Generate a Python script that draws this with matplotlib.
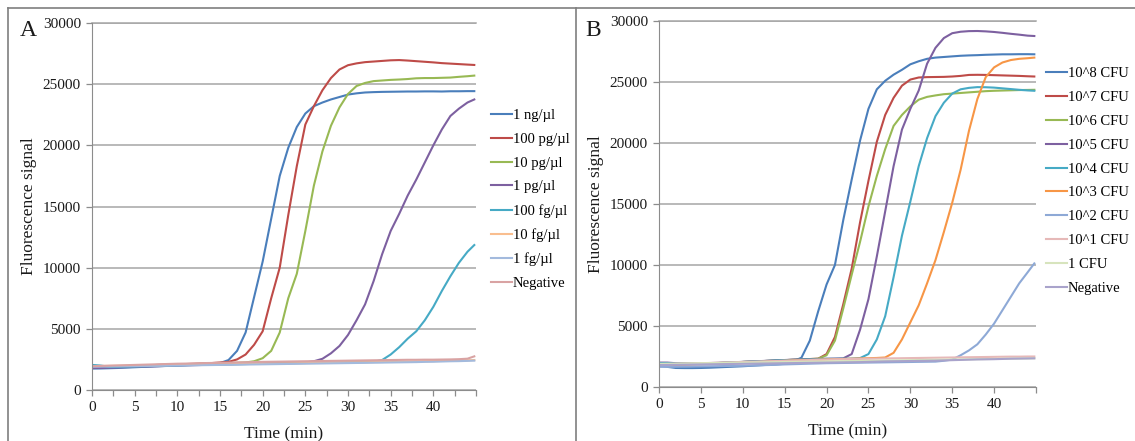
import numpy as np
import matplotlib
matplotlib.use("Agg")
import matplotlib.pyplot as plt
from matplotlib.lines import Line2D

plt.rcParams['font.family'] = ['Liberation Serif', 'DejaVu Serif']

# ---------------- data ----------------
time = list(range(45)) + [44.8]

labels_a = ["1 ng/\u00b5l", "100 pg/\u00b5l", "10 pg/\u00b5l", "1 pg/\u00b5l",
            "100 fg/\u00b5l", "10 fg/\u00b5l", "1 fg/\u00b5l", "Negative"]
colors_a = ["#4A7EBB", "#BE4B48", "#98B954", "#7D60A0",
            "#46AAC5", "#F9BE8F", "#A3BADD", "#D9A3A3"]

a_1ng = [1750, 1760, 1780, 1800, 1830, 1860, 1890, 1920, 1950, 1980,
         2010, 2040, 2070, 2100, 2140, 2200, 2450, 3200, 4700, 7600,
         10500, 14000, 17500, 19800, 21500, 22600, 23200, 23500, 23750, 23950,
         24150, 24250, 24320, 24350, 24370, 24380, 24390, 24400, 24400, 24410,
         24410, 24400, 24420, 24420, 24430, 24430]
a_100pg = [1850, 1870, 1890, 1910, 1940, 1970, 2000, 2030, 2060, 2080,
           2100, 2120, 2140, 2170, 2200, 2250, 2300, 2500, 2900, 3700,
           4800, 7500, 10000, 14300, 18300, 21700, 23200, 24500, 25500, 26200,
           26550, 26700, 26800, 26850, 26900, 26950, 26970, 26930, 26880, 26830,
           26780, 26720, 26680, 26640, 26600, 26570]
a_10pg = [1900, 1910, 1920, 1940, 1960, 1980, 2000, 2020, 2040, 2060,
          2080, 2100, 2120, 2140, 2160, 2180, 2200, 2220, 2250, 2350,
          2600, 3200, 4700, 7500, 9500, 13000, 16700, 19500, 21600, 23100,
          24200, 24850, 25100, 25250, 25300, 25350, 25380, 25420, 25480, 25500,
          25500, 25520, 25540, 25600, 25650, 25700]
a_1pg = [1800, 1810, 1830, 1850, 1870, 1890, 1910, 1930, 1950, 1970,
         1990, 2010, 2030, 2050, 2070, 2090, 2100, 2120, 2130, 2150,
         2160, 2180, 2190, 2210, 2230, 2250, 2350, 2550, 3000, 3600,
         4500, 5700, 7000, 8900, 11100, 13000, 14400, 15900, 17200, 18600,
         20000, 21300, 22400, 23000, 23500, 23750]
a_100fg = [2050, 2000, 1900, 1900, 1910, 1920, 1940, 1960, 1980, 2000,
           2010, 2030, 2050, 2060, 2080, 2090, 2100, 2110, 2120, 2140,
           2150, 2160, 2170, 2180, 2200, 2210, 2220, 2230, 2240, 2250,
           2260, 2270, 2280, 2300, 2450, 2900, 3500, 4200, 4800, 5700,
           6800, 8100, 9300, 10400, 11300, 11850]
a_10fg = [1950, 1960, 1970, 1980, 1990, 2000, 2010, 2020, 2030, 2040,
          2050, 2060, 2070, 2080, 2090, 2100, 2110, 2120, 2130, 2140,
          2150, 2160, 2170, 2180, 2190, 2200, 2210, 2220, 2230, 2240,
          2250, 2260, 2270, 2280, 2290, 2300, 2310, 2320, 2330, 2350,
          2360, 2380, 2400, 2410, 2430, 2450]
a_1fg = [1900, 1910, 1920, 1930, 1940, 1950, 1960, 1970, 1980, 1990,
         2000, 2010, 2020, 2030, 2040, 2050, 2060, 2070, 2080, 2090,
         2100, 2110, 2120, 2130, 2140, 2150, 2160, 2170, 2180, 2190,
         2200, 2210, 2220, 2230, 2240, 2250, 2260, 2270, 2280, 2300,
         2310, 2330, 2350, 2360, 2380, 2400]
a_neg = [1950, 1970, 1990, 2010, 2030, 2050, 2070, 2090, 2110, 2130,
         2150, 2160, 2180, 2200, 2210, 2230, 2240, 2260, 2270, 2290,
         2300, 2310, 2320, 2330, 2340, 2350, 2360, 2370, 2380, 2390,
         2400, 2410, 2420, 2430, 2440, 2450, 2460, 2470, 2470, 2480,
         2480, 2490, 2500, 2520, 2560, 2750]
series_a = [a_1ng, a_100pg, a_10pg, a_1pg, a_100fg, a_10fg, a_1fg, a_neg]

labels_b = ["10^8 CFU", "10^7 CFU", "10^6 CFU", "10^5 CFU", "10^4 CFU",
            "10^3 CFU", "10^2 CFU", "10^1 CFU", "1 CFU", "Negative"]
colors_b = ["#4A7EBB", "#BE4B48", "#98B954", "#7D60A0", "#46AAC5",
            "#F79646", "#8EA9D6", "#E6B9B8", "#D7E4BD", "#A9A3CB"]

b_e8 = [1750, 1650, 1560, 1550, 1550, 1560, 1580, 1610, 1640, 1670,
        1700, 1740, 1780, 1820, 1860, 1900, 2100, 2400, 3800, 6200,
        8400, 10000, 13700, 17000, 20200, 22800, 24400, 25100, 25600, 26000,
        26450, 26700, 26900, 27000, 27050, 27100, 27150, 27180, 27200, 27230,
        27250, 27270, 27270, 27280, 27280, 27270]
b_e7 = [1850, 1850, 1860, 1870, 1890, 1910, 1930, 1960, 1990, 2020,
        2050, 2080, 2110, 2140, 2170, 2200, 2230, 2260, 2290, 2320,
        2700, 4100, 6800, 9700, 13500, 16900, 20100, 22300, 23700, 24700,
        25200, 25370, 25400, 25410, 25420, 25450, 25500, 25580, 25590, 25580,
        25560, 25540, 25520, 25500, 25470, 25450]
b_e6 = [1900, 1900, 1900, 1900, 1910, 1920, 1940, 1960, 1990, 2020,
        2050, 2080, 2110, 2140, 2170, 2200, 2230, 2260, 2290, 2320,
        2600, 3800, 6450, 9200, 11900, 14800, 17300, 19500, 21400, 22300,
        23000, 23550, 23780, 23900, 24000, 24050, 24100, 24150, 24200, 24250,
        24280, 24300, 24320, 24340, 24350, 24360]
b_e5 = [2000, 2000, 1950, 1950, 1950, 1950, 1960, 1980, 2000, 2030,
        2060, 2090, 2120, 2150, 2180, 2210, 2240, 2260, 2280, 2300,
        2320, 2330, 2350, 2700, 4700, 7200, 10700, 14400, 18100, 21100,
        22800, 24300, 26500, 27800, 28600, 29000, 29120, 29170, 29180, 29150,
        29100, 29030, 28950, 28880, 28800, 28770]
b_e4 = [1950, 1950, 1900, 1900, 1910, 1920, 1940, 1960, 1990, 2020,
        2050, 2080, 2110, 2140, 2170, 2200, 2220, 2240, 2260, 2280,
        2300, 2310, 2320, 2330, 2370, 2700, 3900, 5800, 9000, 12400,
        15200, 18100, 20400, 22200, 23300, 24050, 24400, 24520, 24580, 24570,
        24540, 24480, 24420, 24360, 24310, 24280]
b_e3 = [1800, 1800, 1810, 1820, 1840, 1860, 1880, 1910, 1940, 1970,
        2000, 2030, 2060, 2090, 2120, 2150, 2180, 2200, 2220, 2240,
        2260, 2280, 2300, 2320, 2340, 2360, 2380, 2420, 2800, 3900,
        5300, 6700, 8500, 10400, 12700, 15100, 17800, 21000, 23600, 25400,
        26200, 26600, 26800, 26900, 26950, 27000]
b_e2 = [1650, 1650, 1660, 1670, 1680, 1690, 1700, 1710, 1720, 1730,
        1740, 1760, 1780, 1800, 1820, 1850, 1870, 1890, 1910, 1930,
        1950, 1960, 1970, 1980, 1990, 2000, 2010, 2020, 2030, 2040,
        2050, 2060, 2070, 2080, 2150, 2250, 2600, 3000, 3500, 4300,
        5200, 6300, 7400, 8500, 9400, 10130]
b_e1 = [1850, 1870, 1890, 1910, 1930, 1950, 1970, 1990, 2010, 2030,
        2050, 2070, 2090, 2110, 2130, 2150, 2170, 2190, 2210, 2230,
        2250, 2270, 2280, 2300, 2310, 2320, 2330, 2340, 2350, 2360,
        2370, 2380, 2390, 2400, 2410, 2420, 2430, 2440, 2450, 2460,
        2470, 2480, 2490, 2490, 2500, 2500]
b_1 = [1900, 1910, 1920, 1930, 1940, 1950, 1960, 1970, 1980, 1990,
       2000, 2010, 2020, 2030, 2040, 2050, 2060, 2070, 2080, 2090,
       2100, 2110, 2120, 2130, 2140, 2150, 2160, 2170, 2180, 2190,
       2200, 2210, 2220, 2230, 2240, 2250, 2260, 2270, 2280, 2290,
       2300, 2310, 2320, 2330, 2340, 2350]
b_neg = [1800, 1810, 1820, 1830, 1840, 1850, 1860, 1870, 1880, 1890,
         1900, 1910, 1920, 1930, 1940, 1950, 1960, 1970, 1980, 1990,
         2000, 2010, 2020, 2030, 2040, 2060, 2080, 2100, 2110, 2120,
         2130, 2140, 2150, 2160, 2180, 2200, 2220, 2240, 2260, 2270,
         2280, 2300, 2320, 2330, 2340, 2350]
series_b = [b_e8, b_e7, b_e6, b_e5, b_e4, b_e3, b_e2, b_e1, b_1, b_neg]

yticks = [0, 5000, 10000, 15000, 20000, 25000, 30000]

# ---------------- figure ----------------
W, H = 1135, 441
fig = plt.figure(figsize=(W / 100, H / 100), dpi=100)

def frac_axes(left, right, top, bottom):
    return fig.add_axes([left / W, 1 - bottom / H, (right - left) / W, (bottom - top) / H])

grid_c = "#A6A6A6"
axis_c = "#8C8C8C"

def style(ax, minor_step):
    ax.set_xlim(0, 45)
    ax.set_ylim(0, 30000)
    ax.set_yticks(yticks)
    ax.set_yticklabels([str(v) for v in yticks])
    ax.set_xticks([0, 5, 10, 15, 20, 25, 30, 35, 40])
    ax.set_xticks(np.arange(0, 45.1, minor_step), minor=True)
    for s in ["top", "right"]:
        ax.spines[s].set_visible(False)
    ax.spines["left"].set_color(axis_c)
    ax.spines["bottom"].set_color(axis_c)
    ax.yaxis.grid(True, color=grid_c, linewidth=1.1)
    ax.set_axisbelow(True)
    ax.tick_params(axis="both", which="both", colors=axis_c, labelcolor="#1a1a1a",
                   labelsize=11, length=4, width=0.9)
    ax.tick_params(axis="y", length=4, pad=4)
    ax.tick_params(axis="x", direction="out", pad=4)
    ax.set_xlabel("Time (min)", fontsize=12.5, labelpad=9, color="#1a1a1a")
    ax.set_ylabel("Fluorescence signal", fontsize=12.5, labelpad=4, color="#1a1a1a")
    ax.axhline(30000, color=grid_c, linewidth=1.1, clip_on=False, zorder=0)

# panel A
axA = frac_axes(92, 476, 23, 390)
for vals, c, lab in zip(series_a, colors_a, labels_a):
    axA.plot(time, vals, color=c, linewidth=1.5, label=lab)
style(axA, 2.5)
axA.tick_params(axis="x", which="minor", length=4)

# panel B
axB = frac_axes(659, 1036, 21, 387)
for vals, c, lab in zip(series_b, colors_b, labels_b):
    axB.plot(time, vals, color=c, linewidth=1.5, label=lab)
style(axB, 5)

# legends
fs_leg = 10.5
axA.legend(loc="upper left", bbox_to_anchor=(491 / W, 1 - 109 / H),
           bbox_transform=fig.transFigure, frameon=False, fontsize=fs_leg,
           handlelength=1.45, handletextpad=0.05, labelspacing=0.72,
           borderpad=0, borderaxespad=0)
axB.legend(loc="upper left", bbox_to_anchor=(1046 / W, 1 - 67 / H),
           bbox_transform=fig.transFigure, frameon=False, fontsize=fs_leg,
           handlelength=1.45, handletextpad=0.05, labelspacing=0.73,
           borderpad=0, borderaxespad=0)

# panel letters
fig.text(20 / W, 1 - 30 / H, "A", fontsize=17, ha="left", va="center", color="#1a1a1a")
fig.text(585 / W, 1 - 30 / H, "B", fontsize=17, ha="left", va="center", color="#1a1a1a")

# outer frame lines
frame_c = "#7F7F7F"
fig.add_artist(Line2D([8 / W, 1], [1 - 8 / H, 1 - 8 / H], color=frame_c, linewidth=1.2,
                      transform=fig.transFigure))
fig.add_artist(Line2D([8 / W, 8 / W], [0, 1 - 8 / H], color=frame_c, linewidth=1.2,
                      transform=fig.transFigure))
fig.add_artist(Line2D([576 / W, 576 / W], [0, 1 - 8 / H], color=frame_c, linewidth=1.2,
                      transform=fig.transFigure))

fig.savefig("out.png", dpi=100)
